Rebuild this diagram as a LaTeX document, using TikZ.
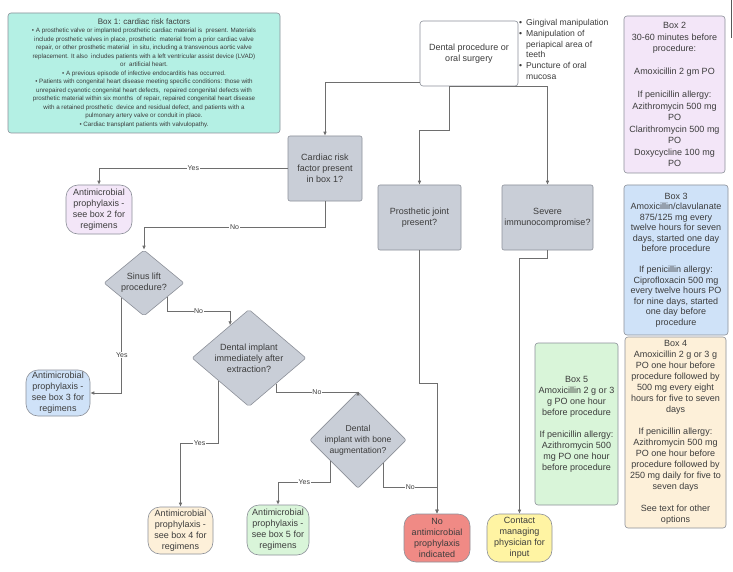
\documentclass[tikz,border=0pt]{standalone}
\usepackage{fontspec}
\setmainfont{Liberation Sans}
\usetikzlibrary{arrows.meta,shapes.geometric,calc}
\definecolor{textc}{HTML}{3C3C3C}
\definecolor{bordc}{HTML}{8C9099}
\definecolor{linec}{HTML}{6E6E6E}
\definecolor{cyanf}{HTML}{B4F0E4}
\definecolor{decf}{HTML}{C9CED7}
\definecolor{purf}{HTML}{F3E6F8}
\definecolor{bluf}{HTML}{CFE2F8}
\definecolor{peaf}{HTML}{FDF0D9}
\definecolor{grnf}{HTML}{D9F5D9}
\definecolor{redf}{HTML}{F08A85}
\definecolor{yelf}{HTML}{FFF4A3}
\newcommand\bul{\makebox[7pt][l]{•}}
\newcommand\indt{\hspace*{7pt}}
\begin{document}
\begin{tikzpicture}[x=1pt,y=-1pt,
  base/.style={text=textc, font=\fontsize{9}{11}\selectfont, align=center, inner sep=1pt},
  panel/.style={base, draw=bordc, line width=0.6pt, rounded corners=3pt},
  dec/.style={base, draw=bordc, fill=decf, line width=0.6pt, rounded corners=2pt},
  term/.style={base, draw=bordc, line width=0.6pt, rounded corners=12pt},
  dia/.style={base, diamond, draw=bordc, fill=decf, line width=0.6pt, rounded corners=2pt, inner sep=0pt},
  conn/.style={draw=linec, line width=0.7pt, -{Latex[length=4pt,width=3.6pt]}},
  lab/.style={fill=white, text=textc, font=\fontsize{7}{8}\selectfont, inner sep=0.6pt}]
\useasboundingbox[fill=white] (0,0) rectangle (733,572);
\draw[linec!80!black, line width=1pt] (731.5,0) -- (731.5,38);

% Box 1
\node[panel, fill=cyanf, minimum width=272, minimum height=120, font=\fontsize{6.25}{8.5}\selectfont] (b1) at (144,73) {%
{\fontsize{8}{10}\selectfont Box 1: cardiac risk factors}\\
• A prosthetic valve or implanted prosthetic cardiac material is\ \ present. Materials\\
include prosthetic valves in place, prosthetic\ \ material from a prior cardiac valve\\
repair, or other prosthetic material\ \ in situ, including a transvenous aortic valve\\
replacement. It also\ \ includes patients with a left ventricular assist device (LVAD)\\
or\ \ artificial heart.\\
• A previous episode of infective endocarditis has occurred.\\
• Patients with congenital heart disease meeting specific conditions: those with\\
unrepaired cyanotic congenital heart defects,\ \ repaired congenital defects with\\
prosthetic material within six months\ \ of repair, repaired congenital heart disease\\
with a retained prosthetic\ \ device and residual defect, and patients with a\\
pulmonary artery valve or conduit in place.\\
• Cardiac transplant patients with valvulopathy.};

% top process
\node[panel, fill=white, minimum width=98, minimum height=65] (dp) at (469,53.5) {Dental procedure or\\oral surgery};
\node[base, align=left, anchor=north west, font=\fontsize{8.6}{10.8}\selectfont] (bl) at (518,18) {%
\bul Gingival manipulation\\
\bul Manipulation of\\
\indt periapical area of\\
\indt teeth\\
\bul Puncture of oral\\
\indt mucosa};

% decisions (boxes)
\node[dec, minimum width=74, minimum height=65] (card) at (325,168.5) {Cardiac risk\\factor present\\in box 1?};
\node[dec, minimum width=83, minimum height=65] (pj) at (419.5,217.5) {Prosthetic joint\\present?};
\node[dec, minimum width=91, minimum height=65] (sev) at (547.5,217.5) {Severe\\immunocompromise?};

% diamonds
\node[dia, minimum width=80, minimum height=66] (sinus) at (144,283) {Sinus lift\\procedure?};
\node[dia, minimum width=114, minimum height=96] (di) at (249,358) {Dental implant\\immediately after\\extraction?};
\node[dia, minimum width=90, minimum height=80, font=\fontsize{8.6}{10.8}\selectfont] (bd) at (358,440) {Dental\\implant with bone\\augmentation?};

% terminal nodes
\node[term, fill=purf, minimum width=66, minimum height=49] (p2) at (99,209.5) {Antimicrobial\\prophylaxis -\\see box 2 for\\regimens};
\node[term, fill=bluf, minimum width=64, minimum height=46] (p3) at (58,393) {Antimicrobial\\prophylaxis -\\see box 3 for\\regimens};
\node[term, fill=peaf, minimum width=65, minimum height=47] (p4) at (180.5,530.5) {Antimicrobial\\prophylaxis -\\see box 4 for\\regimens};
\node[term, fill=grnf, minimum width=62, minimum height=50] (p5) at (278,530) {Antimicrobial\\prophylaxis -\\see box 5 for\\regimens};
\node[term, fill=redf, minimum width=66, minimum height=48] (red) at (437,538) {No\\antimicrobial\\prophylaxis\\indicated};
\node[term, fill=yelf, minimum width=65, minimum height=48] (yel) at (519.5,538) {Contact\\managing\\physician for\\input};

% regimen boxes
\node[panel, fill=purf, minimum width=101, minimum height=157, font=\fontsize{9}{11.5}\selectfont] (bx2) at (674.5,94.5) {Box 2\\30-60 minutes before\\procedure:\\[11.5pt]Amoxicillin 2 gm PO\\[11.5pt]If penicillin allergy:\\Azithromycin 500 mg\\PO\\Clarithromycin 500 mg\\PO\\Doxycycline 100 mg\\PO};
\node[panel, fill=bluf, minimum width=104, minimum height=150, font=\fontsize{9}{10.5}\selectfont] (bx3) at (676,260) {Box 3\\Amoxicillin/clavulanate\\875/125 mg every\\twelve hours for seven\\days, started one day\\before procedure\\[10.5pt]If penicillin allergy:\\Ciprofloxacin 500 mg\\every twelve hours PO\\for nine days, started\\one day before\\procedure};
\node[panel, fill=peaf, minimum width=101, minimum height=191] (bx4) at (675.5,432.5) {Box 4\\Amoxicillin 2 g or 3 g\\PO one hour before\\procedure followed by\\500 mg every eight\\hours for five to seven\\days\\[11pt]If penicillin allergy:\\Azithromycin 500 mg\\PO one hour before\\procedure followed by\\250 mg daily for five to\\seven days\\[11pt]See text for other\\options};
\node[panel, fill=grnf, minimum width=83, minimum height=162] (bx5) at (576.5,424) {Box 5\\Amoxicillin 2 g or 3\\g PO one hour\\before procedure\\[11pt]If penicillin allergy:\\Azithromycin 500\\mg PO one hour\\before procedure};

% connector points
\coordinate (dl) at ($(dp.south west)+(0,-4)$);
\coordinate (db) at ($(dp.south west)+(30,0)$);
\coordinate (S1) at ($(sinus.south)!0.55!(sinus.west)$);
\coordinate (S2) at ($(sinus.south)!0.575!(sinus.east)$);
\coordinate (D1) at ($(di.north)!0.33!(di.west)$);
\coordinate (D2) at ($(di.south)!0.53!(di.west)$);
\coordinate (D3) at ($(di.south)!0.47!(di.east)$);
\coordinate (B1) at ($(bd.south)!0.56!(bd.west)$);
\coordinate (B2) at ($(bd.south)!0.53!(bd.east)$);

% connectors
\draw[conn] (dl) -| (card.north);
\draw[conn] (db) -- (db |- 0,130) -| (pj.north);
\draw[conn] (db) -| (sev.north);
\draw[conn] (card.west) -| node[pos=0.25,lab]{Yes} (p2.north);
\draw[conn] (card.south) -- (card.south |- 0,227) -| node[pos=0.25,lab]{No} (sinus.north);
\draw[conn] (S1) |- node[pos=0.3,lab]{Yes} (p3.east);
\draw[conn] (S2) |- node[pos=0.75,lab]{No} ($(D1)+(0,-14)$) -- (D1);
\draw[conn] (D2) -- (D2 |- 0,443) -| node[pos=0.25,lab]{Yes} (p4.north);
\draw[conn] (D3) -- (D3 |- 0,392) -| node[pos=0.25,lab]{No} (bd.north);
\draw[conn] (B1) -- (B1 |- 0,482) -| node[pos=0.25,lab]{Yes} (p5.north);
\draw[conn] (B2) -- (B2 |- 0,487) -| node[pos=0.25,lab]{No} (red.north);
\draw[conn] (pj.south) -- (pj.south |- 0,383) -| (red.north);
\draw[conn] (sev.south) -- (sev.south |- 0,258) -| (yel.north);
\end{tikzpicture}
\end{document}
